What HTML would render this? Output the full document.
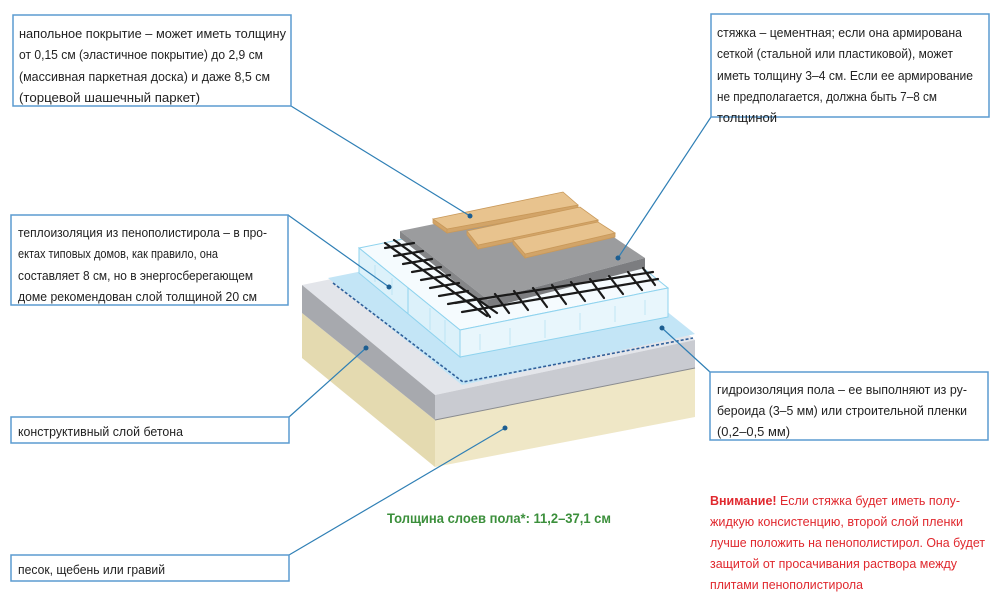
<!DOCTYPE html>
<html><head><meta charset="utf-8"><style>
html,body{margin:0;padding:0;background:#fff;}
svg{display:block;}
text{font-family:"Liberation Sans",sans-serif;font-size:13px;fill:#222;}
</style></head><body>
<svg width="1000" height="610" viewBox="0 0 1000 610" xmlns="http://www.w3.org/2000/svg">
<!-- sand -->
<polygon points="302,313 435,420 435,467 302,358" fill="#e4dab0"/>
<polygon points="435,420 695,368 695,417 435,467" fill="#efe7c6"/>
<!-- concrete -->
<polygon points="302,285 562,232 695,340 435,395" fill="#e3e5ea"/>
<polygon points="302,285 435,395 435,420 302,313" fill="#a7a9ae"/>
<polygon points="435,395 695,340 695,368 435,420" fill="#c9cbd1"/>
<line x1="435" y1="420" x2="695" y2="368" stroke="#8a8c90" stroke-width="1"/>
<!-- membrane -->
<polygon points="328,278 565,230 695,334 462,385" fill="#c3e5f6"/>
<polyline points="333,283 463,382 693,338" fill="none" stroke="#2f5f9a" stroke-width="1.6" stroke-dasharray="3,2"/>
<!-- foam -->
<polygon points="359,248 566,206 668,288 460,330" fill="#f5fbfe" stroke="#8fd3ee" stroke-width="1"/>
<polygon points="359,248 460,330 460,357 359,273" fill="#dcf1fa" stroke="#8fd3ee" stroke-width="1"/>
<polygon points="460,330 668,288 668,317 460,357" fill="#e8f6fc" stroke="#8fd3ee" stroke-width="1"/>
<line x1="408" y1="288" x2="408" y2="314" stroke="#8fd3ee"/>
<g stroke="#b5e2f3" stroke-width="0.8">
<line x1="480" y1="334" x2="480" y2="350"/><line x1="510" y1="328" x2="510" y2="345"/><line x1="545" y1="320" x2="545" y2="338"/><line x1="580" y1="313" x2="580" y2="330"/><line x1="615" y1="306" x2="615" y2="322"/><line x1="645" y1="300" x2="645" y2="315"/>
<line x1="375" y1="265" x2="375" y2="282"/><line x1="392" y1="278" x2="392" y2="295"/><line x1="430" y1="308" x2="430" y2="330"/><line x1="445" y1="320" x2="445" y2="343"/>
</g>
<!-- screed -->
<polygon points="400,231 557,199 645,258 488,300" fill="#9b9c9e"/>
<polygon points="400,231 488,300 488,308 400,238" fill="#858688"/>
<polygon points="488,300 645,258 645,268 488,308" fill="#7c7d80"/>
<!-- mesh -->
<g stroke="#1a1a1a" stroke-width="2.2" stroke-linecap="round">
<line x1="385" y1="243" x2="487" y2="316"/>
<line x1="394" y1="240" x2="497" y2="313"/>
<line x1="455" y1="303" x2="653" y2="272"/>
<line x1="462" y1="312" x2="658" y2="279"/>
<line x1="385" y1="248" x2="414" y2="243"/>
<line x1="394" y1="256" x2="423" y2="251"/>
<line x1="403" y1="264" x2="432" y2="259"/>
<line x1="412" y1="272" x2="441" y2="267"/>
<line x1="421" y1="280" x2="450" y2="275"/>
<line x1="430" y1="288" x2="459" y2="283"/>
<line x1="439" y1="296" x2="468" y2="291"/>
<line x1="448" y1="304" x2="477" y2="299"/>
<line x1="476" y1="298" x2="490" y2="317"/>
<line x1="495" y1="294" x2="509" y2="313"/>
<line x1="514" y1="291" x2="528" y2="310"/>
<line x1="533" y1="288" x2="547" y2="307"/>
<line x1="552" y1="285" x2="566" y2="304"/>
<line x1="571" y1="282" x2="585" y2="301"/>
<line x1="590" y1="279" x2="604" y2="298"/>
<line x1="609" y1="276" x2="623" y2="294"/>
<line x1="628" y1="272" x2="642" y2="290"/>
<line x1="643" y1="268" x2="655" y2="285"/>
</g>
<!-- boards -->
<g stroke="#c9995a" stroke-width="0.8">
<polygon points="433,219 447,229 447,233 433,223" fill="#d2a468"/>
<polygon points="447,229 578,205 578,209 447,233" fill="#d2a468"/>
<polygon points="433,219 563,192 578,205 447,229" fill="#e8c38e"/>
<polygon points="467,231 478,245 478,249 467,235" fill="#d2a468"/>
<polygon points="478,245 598,220 598,224 478,249" fill="#d2a468"/>
<polygon points="467,231 580,207 598,220 478,245" fill="#e8c38e"/>
<polygon points="513,240 525,254 525,258 513,244" fill="#d2a468"/>
<polygon points="525,254 615,233 615,237 525,258" fill="#d2a468"/>
<polygon points="513,240 598,222 615,233 525,254" fill="#e8c38e"/>
</g>
<!-- connectors -->
<g stroke="#2f7fb5" stroke-width="1.2" fill="none">
<polyline points="291,106 470,216"/>
<polyline points="711,117 618,258"/>
<polyline points="288,215 389,287"/>
<polyline points="289,417 366,348"/>
<polyline points="289,555 505,428"/>
<polyline points="710,372 662,328"/>
</g>
<g fill="#1d5e91">
<circle cx="470" cy="216" r="2.5"/><circle cx="618" cy="258" r="2.5"/><circle cx="389" cy="287" r="2.5"/>
<circle cx="366" cy="348" r="2.5"/><circle cx="505" cy="428" r="2.5"/><circle cx="662" cy="328" r="2.5"/>
</g>
<!-- boxes -->
<g fill="#fff" stroke="#5b9bd0" stroke-width="1.5">
<rect x="13" y="15" width="278" height="91"/>
<rect x="711" y="14" width="278" height="103"/>
<rect x="11" y="215" width="277" height="90"/>
<rect x="11" y="417" width="278" height="26"/>
<rect x="11" y="555" width="278" height="26"/>
<rect x="710" y="372" width="278" height="68"/>
</g>
<g>
<text x="19" y="38" textLength="267" lengthAdjust="spacingAndGlyphs">напольное покрытие – может иметь толщину</text>
<text x="19" y="59" textLength="244" lengthAdjust="spacingAndGlyphs">от 0,15 см (эластичное покрытие) до 2,9 см</text>
<text x="19" y="81" textLength="251" lengthAdjust="spacingAndGlyphs">(массивная паркетная доска) и даже 8,5 см</text>
<text x="19" y="102" textLength="181" lengthAdjust="spacingAndGlyphs">(торцевой шашечный паркет)</text>
<text x="717" y="37" textLength="245" lengthAdjust="spacingAndGlyphs">стяжка – цементная; если она армирована</text>
<text x="717" y="58" textLength="236" lengthAdjust="spacingAndGlyphs">сеткой (стальной или пластиковой), может</text>
<text x="717" y="80" textLength="256" lengthAdjust="spacingAndGlyphs">иметь толщину 3–4 см. Если ее армирование</text>
<text x="717" y="101" textLength="220" lengthAdjust="spacingAndGlyphs">не предполагается, должна быть 7–8 см</text>
<text x="717" y="122" textLength="60" lengthAdjust="spacingAndGlyphs">толщиной</text>
<text x="18" y="237" textLength="249" lengthAdjust="spacingAndGlyphs">теплоизоляция из пенополистирола – в про-</text>
<text x="18" y="258" textLength="200" lengthAdjust="spacingAndGlyphs">ектах типовых домов, как правило, она</text>
<text x="18" y="280" textLength="235" lengthAdjust="spacingAndGlyphs">составляет 8 см, но в энергосберегающем</text>
<text x="18" y="301" textLength="239" lengthAdjust="spacingAndGlyphs">доме рекомендован слой толщиной 20 см</text>
<text x="18" y="436" textLength="165" lengthAdjust="spacingAndGlyphs">конструктивный слой бетона</text>
<text x="18" y="574" textLength="147" lengthAdjust="spacingAndGlyphs">песок, щебень или гравий</text>
<text x="717" y="394" textLength="250" lengthAdjust="spacingAndGlyphs">гидроизоляция пола – ее выполняют из ру-</text>
<text x="717" y="415" textLength="250" lengthAdjust="spacingAndGlyphs">бероида (3–5 мм) или строительной пленки</text>
<text x="717" y="436" textLength="73" lengthAdjust="spacingAndGlyphs">(0,2–0,5 мм)</text>
<text x="387" y="523" textLength="224" lengthAdjust="spacingAndGlyphs" style="fill:#3b8f3b;font-weight:bold;font-size:14px">Толщина слоев пола*: 11,2–37,1 см</text>
<text x="710" y="505" textLength="250" lengthAdjust="spacingAndGlyphs" style="fill:#e0282e"><tspan style="font-weight:bold">Внимание!</tspan> Если стяжка будет иметь полу-</text>
<text x="710" y="526" textLength="253" lengthAdjust="spacingAndGlyphs" style="fill:#e0282e">жидкую консистенцию, второй слой пленки</text>
<text x="710" y="547" textLength="275" lengthAdjust="spacingAndGlyphs" style="fill:#e0282e">лучше положить на пенополистирол. Она будет</text>
<text x="710" y="568" textLength="247" lengthAdjust="spacingAndGlyphs" style="fill:#e0282e">защитой от просачивания раствора между</text>
<text x="710" y="589" textLength="153" lengthAdjust="spacingAndGlyphs" style="fill:#e0282e">плитами пенополистирола</text>
</g>
</svg>
</body></html>
